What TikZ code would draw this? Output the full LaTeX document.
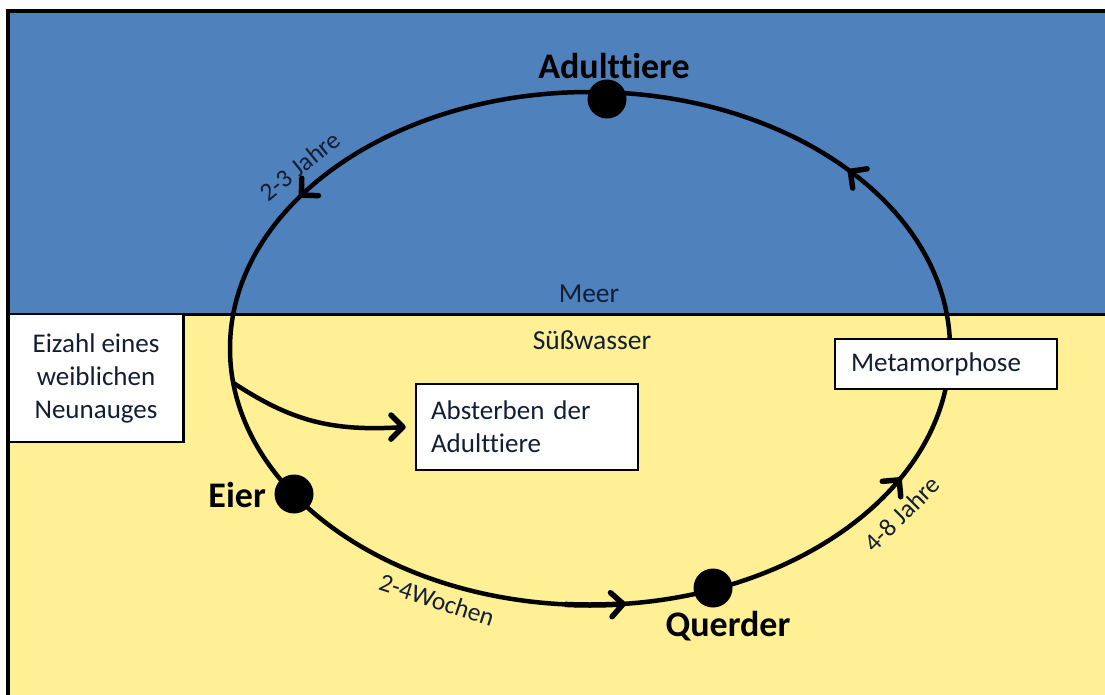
\documentclass[tikz,border=0pt]{standalone}
\usepackage{fontspec}
\setmainfont[Ligatures=NoCommon]{Carlito}
\definecolor{sea}{RGB}{79,129,189}
\definecolor{fresh}{RGB}{255,240,150}
\definecolor{ink}{RGB}{18,30,52}
\begin{document}
\begin{tikzpicture}[x=1pt,y=1pt,
  lbl/.style={font=\fontsize{27.5}{32.5}\selectfont, text=ink, inner sep=0pt},
  big/.style={font=\fontsize{36}{40}\selectfont\bfseries, inner sep=0pt},
  rot/.style={font=\fontsize{25.5}{28}\selectfont, text=ink, inner sep=0pt},
  dot/.style={circle, fill=black, minimum size=39pt, inner sep=0pt},
  boxs/.style={draw=black, line width=2.2pt, fill=white, font=\fontsize{27}{33}\selectfont, text=ink},
  cyc/.style={line width=4.5pt},
  chev/.style={line width=5.5pt, line cap=round, line join=round},
  arcr/.style={x radius=360, y radius=256.5}
]
\useasboundingbox (0,0) rectangle (1105,-695);
\fill[white] (0,0) rectangle (1105,-695);
\fill[sea] (8,-11) rectangle (1105,-314);
\fill[fresh] (8,-314) rectangle (1105,-695);
\draw[line width=3pt] (8,-314) -- (1105,-314);
\draw[line width=4pt] (8,-695) -- (8,-11) -- (1105,-11);

\coordinate (c) at (590,-348.5);
% life cycle
\draw[cyc] (c) ellipse[arcr];
\draw[line width=5.5pt] ([shift={(266:360 and 256.5)}]c) arc[start angle=266, end angle=275, arcr];
\foreach \t in {143.3,275.3,329.2,43.7}{
  \pgfmathsetmacro\ang{atan2(256.5*cos(\t), -360*sin(\t))}
  \coordinate (p) at ([shift={(\t:360 and 256.5)}]c);
  \draw[chev] (p) ++(\ang+135:17pt) -- (p) -- ++(\ang-135:17pt);
}

% stages
\node[dot] (adult) at (607,-99) {};
\node[dot] (eier) at (294,-494) {};
\node[dot] (querder) at (713,-588) {};
\node[big] (adultL) at (614,-66) {Adulttiere};
\node[big, anchor=east] (eierL) at (266,-495) {Eier};
\node[big] (querderL) at (728,-626) {Querder};

% zones
\node[lbl] (meer) at (589,-294) {Meer};
\node[lbl] (suess) at (592,-340) {Süßwasser};

% boxes
\node[boxs, minimum width=175pt, minimum height=128pt, align=center, inner sep=0pt] (eizahl) at (96,-378) {Eizahl eines\\weiblichen\\Neunauges};
\node[boxs, anchor=north west, text width=192pt, inner xsep=15pt, inner ysep=0pt, minimum height=86pt, align=left] (tod) at (415,-383) {Absterben der\\Adulttiere};
\node[boxs, anchor=north west, text width=190pt, inner xsep=16pt, inner ysep=0pt, minimum height=50pt, align=left] (meta) at (834,-338) {Metamorphose};

% branch to death
\coordinate (branch) at ([shift={(187.7:360 and 256.5)}]c);
\coordinate (tip) at ([xshift=-12pt]tod.west);
\draw[line width=4.5pt] (branch) .. controls (290,-420) and (330,-432) .. (tip);
\draw[chev] (tip) ++(135:17pt) -- (tip) -- ++(-135:17pt);

% durations
\node[rot, rotate=39] (t1) at (300,-166) {2-3 Jahre};
\node[rot, rotate=45] (t2) at (902,-514) {4-8 Jahre};
\node[rot, rotate=-18] (t3) at (437,-600) {2-4Wochen};
\end{tikzpicture}
\end{document}
